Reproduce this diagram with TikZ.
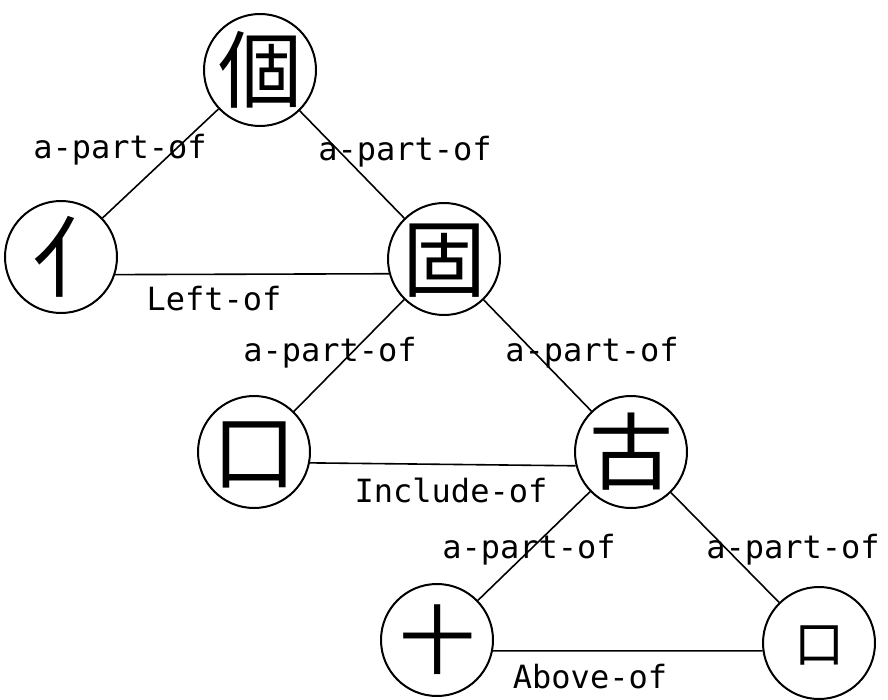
\documentclass[tikz,border=0pt]{standalone}
\usepackage{fontspec}
\newfontfamily\cjk{Noto Sans CJK TC}
\newfontfamily\mono{DejaVu Sans Mono}

\newcommand{\hanzi}[2]{{\cjk\fontsize{#1}{#1}\selectfont\makebox[0pt]{\raisebox{-0.38em}[0pt][0pt]{#2}}}}

\tikzset{
  zi/.style={circle, draw, line width=1pt, minimum size=56pt, inner sep=0pt},
  rel/.style={font=\mono\fontsize{16}{18}\selectfont, inner sep=0pt},
  link/.style={line width=0.8pt}
}

\begin{document}
\begin{tikzpicture}[x=0.5pt, y=-0.5pt]
            \useasboundingbox (0,0) rectangle (888,700);
            % characters
            \node[zi] (ge)   at (260,70)  {\hanzi{42}{個}};
            \node[zi] (ren)  at (61,257)  {\hspace{16pt}\hanzi{44}{亻}};
            \node[zi] (gu)   at (444,259) {\hanzi{42}{固}};
            \node[zi] (wei)  at (254,452) {\hanzi{42}{口}};
            \node[zi] (guu)  at (631,452) {\hanzi{42}{古}};
            \node[zi] (shi)  at (437,640) {\hanzi{38}{十}};
            \node[zi] (kou)  at (819,643) {\hanzi{25}{口}};
            % relations
            \draw[link] (ge) -- (ren);
            \draw[link] (ge) -- (gu);
            \draw[link] (ren.-18) -- (gu.195);
            \draw[link] (gu) -- (wei);
            \draw[link] (gu) -- (guu);
            \draw[link] (wei.-11) -- (guu.194);
            \draw[link] (guu) -- (shi);
            \draw[link] (guu) -- (kou);
            \draw[link] (shi.-11) -- (kou.188);
            % labels
            \node[rel] (ap1) at (120,150) {a-part-of};
            \node[rel] (ap2) at (405,152) {a-part-of};
            \node[rel] (left) at (214,299) {Left-of};
            \node[rel] (ap3) at (330,353) {a-part-of};
            \node[rel] (ap4) at (592,353) {a-part-of};
            \node[rel] (incl) at (451,490) {Include-of};
            \node[rel] (ap5) at (529,550) {a-part-of};
            \node[rel] (ap6) at (793,550) {a-part-of};
            \node[rel] (above) at (590,677) {Above-of};
        \end{tikzpicture}
\end{document}
